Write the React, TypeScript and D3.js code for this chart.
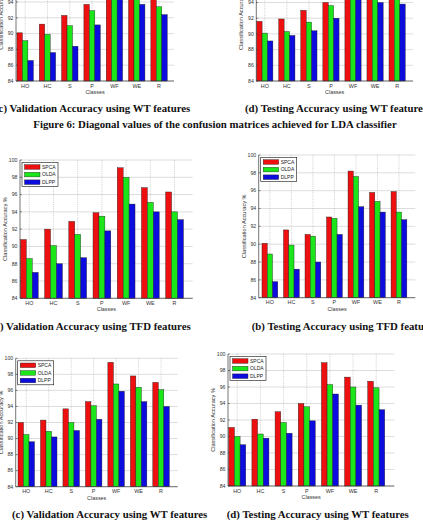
import React from 'react';
import * as d3 from 'd3';

const classes = ['HO', 'HC', 'S', 'P', 'WF', 'WE', 'R'];
const methods = ['SPCA', 'OLDA', 'DLPP'];
const accTicks = [84, 86, 88, 90, 92, 94, 96, 98, 100];

// LDA classifier, WT features
const ldaValSpca = [90.1, 91.2, 92.3, 93.7, 98.4, 96.3, 95.2];
const ldaValOlda = [89.1, 89.9, 91.0, 92.9, 97.2, 95.4, 93.4];
const ldaValDlpp = [86.6, 87.6, 88.4, 91.1, 95.6, 93.7, 92.4];
const ldaTestSpca = [91.6, 91.9, 93.0, 94.0, 98.0, 96.0, 95.5];
const ldaTestOlda = [90.1, 90.3, 91.5, 93.6, 97.0, 95.0, 94.6];
const ldaTestDlpp = [89.1, 89.8, 90.4, 92.0, 95.5, 94.0, 93.8];

// TFD features
const tfdValSpca = [90.8, 92.0, 92.9, 93.9, 99.1, 96.8, 96.3];
const tfdValOlda = [88.6, 90.1, 91.4, 93.5, 98.0, 95.1, 94.0];
const tfdValDlpp = [87.0, 88.0, 88.7, 91.8, 94.9, 94.0, 93.1];
const tfdTestSpca = [90.1, 91.6, 91.1, 93.05, 98.2, 95.8, 95.9];
const tfdTestOlda = [88.9, 89.9, 90.9, 92.9, 97.6, 94.8, 93.6];
const tfdTestDlpp = [85.8, 87.2, 88.0, 91.1, 94.2, 93.6, 92.75];

// WT features
const wtValSpca = [92.0, 92.3, 93.7, 94.6, 99.5, 97.8, 97.0];
const wtValOlda = [90.5, 90.9, 92.0, 94.1, 96.8, 96.4, 96.1];
const wtValDlpp = [89.6, 90.2, 91.0, 92.4, 95.9, 94.6, 94.0];
const wtTestSpca = [91.1, 92.1, 93.0, 94.0, 98.95, 97.2, 96.7];
const wtTestOlda = [90.0, 90.3, 91.7, 93.6, 96.3, 96.0, 95.9];
const wtTestDlpp = [89.0, 89.8, 90.4, 91.9, 95.15, 93.8, 93.25];

const colors = ['#ee1010', '#1ae61a', '#0c0cde'];
const BAR_W = 0.245;
const SANS = "'Liberation Sans', Arial, sans-serif";
const SERIF = "'Liberation Serif', 'Times New Roman', serif";

type Panel = {
  left: number;
  right: number;
  top: number;
  bottom: number;
  xMin: number;
  xMax: number;
  series: number[][];
};

const panels: Panel[] = [
  { left: 16, right: 174, top: -45.4, bottom: 81, xMin: 0.59, xMax: 7.67, series: [ldaValSpca, ldaValOlda, ldaValDlpp] },
  { left: 256.3, right: 413, top: -44.6, bottom: 81, xMin: 0.615, xMax: 7.72, series: [ldaTestSpca, ldaTestOlda, ldaTestDlpp] },
  { left: 20, right: 192.7, top: 160, bottom: 298.3, xMin: 0.616, xMax: 7.75, series: [tfdValSpca, tfdValOlda, tfdValDlpp] },
  { left: 258.7, right: 415.3, top: 155, bottom: 297.7, xMin: 0.48, xMax: 7.76, series: [tfdTestSpca, tfdTestOlda, tfdTestDlpp] },
  { left: 15.7, right: 177.7, top: 358.3, bottom: 486.7, xMin: 0.53, xMax: 7.74, series: [wtValSpca, wtValOlda, wtValDlpp] },
  { left: 228, right: 394.3, top: 354, bottom: 486, xMin: 0.6, xMax: 7.78, series: [wtTestSpca, wtTestOlda, wtTestDlpp] },
];

function BarPanel({ p }: { p: Panel }) {
  const x = d3.scaleLinear().domain([p.xMin, p.xMax]).range([p.left, p.right]);
  const y = d3.scaleLinear().domain([84, 100]).range([p.bottom, p.top]);
  const bw = x(1 + BAR_W) - x(1);
  const lx = p.left + 2;
  const ly = p.top + 2.5;

  return (
    <g style={{ fontFamily: SANS }}>
      {accTicks.map((t) => (
        <line key={'h' + t} x1={p.left} x2={p.right} y1={y(t)} y2={y(t)} stroke="#c6c6c6" strokeWidth={0.6} />
      ))}
      {classes.map((c, i) => (
        <line key={'v' + c} x1={x(i + 1)} x2={x(i + 1)} y1={p.top} y2={p.bottom}
          stroke="#9c9c9c" strokeWidth={0.5} strokeDasharray="1,1.2" />
      ))}
      {p.series.map((vals, j) =>
        vals.map((v, i) => (
          <rect key={methods[j] + i}
            x={x(i + 1 + (j - 1) * BAR_W) - bw / 2}
            y={y(v)}
            width={bw}
            height={y(84) - y(v)}
            fill={colors[j]}
            stroke="#1e1e1e"
            strokeWidth={0.4} />
        ))
      )}
      <line x1={p.left} x2={p.left} y1={p.top} y2={p.bottom} stroke="#3a3a3a" strokeWidth={0.7} />
      <line x1={p.left} x2={p.right} y1={p.bottom} y2={p.bottom} stroke="#3a3a3a" strokeWidth={0.7} />
      {accTicks.map((t) => (
        <g key={'t' + t}>
          <line x1={p.left} x2={p.left + 1.8} y1={y(t)} y2={y(t)} stroke="#3a3a3a" strokeWidth={0.6} />
          <text x={p.left - 2.5} y={y(t) + 1.8} fontSize={5.2} textAnchor="end" fill="#333">{t}</text>
        </g>
      ))}
      {classes.map((c, i) => (
        <text key={'c' + c} x={x(i + 1)} y={p.bottom + 6.6} fontSize={5.4} textAnchor="middle" fill="#333">{c}</text>
      ))}
      <text x={(p.left + p.right) / 2} y={p.bottom + 12.8} fontSize={5.4} textAnchor="middle" fill="#333">Classes</text>
      <text transform={`translate(${p.left - 13},${(p.top + p.bottom) / 2}) rotate(-90)`}
        fontSize={5.6} textAnchor="middle" fill="#333">Classification Accuracy %</text>
      <g>
        <rect x={lx} y={ly} width={36} height={24} fill="#fff" stroke="#111" strokeWidth={0.6} />
        {methods.map((m, j) => (
          <g key={'l' + m}>
            <rect x={lx + 2.5} y={ly + 2.2 + j * 7.6} width={15.5} height={4.6} fill={colors[j]} stroke="#1e1e1e" strokeWidth={0.4} />
            <text x={lx + 20} y={ly + 6.3 + j * 7.6} fontSize={5} fill="#222">{m}</text>
          </g>
        ))}
      </g>
    </g>
  );
}

export default function App() {
  const cap = { fontFamily: SERIF, fontWeight: 700, fontSize: 10.8, fill: '#111' };
  return (
    <svg width={423} height={529} style={{ position: 'absolute', left: 0, top: 0, background: '#fff' }}>
      <rect width={423} height={529} fill="#fff" />
      {panels.map((p, i) => (
        <BarPanel key={i} p={p} />
      ))}
      <g style={cap}>
        <text x={-5} y={112}>(c) Validation Accuracy using WT features</text>
        <text x={245} y={112}>(d) Testing Accuracy using WT features</text>
        <text x={215} y={128} textAnchor="middle">
          Figure 6: Diagonal values of the confusion matrices achieved for LDA classifier
        </text>
        <text x={-9} y={330}>(a) Validation Accuracy using TFD features</text>
        <text x={251.7} y={330}>(b) Testing Accuracy using TFD features</text>
        <text x={12} y={518}>(c) Validation Accuracy using WT features</text>
        <text x={226.7} y={518}>(d) Testing Accuracy using WT features</text>
      </g>
    </svg>
  );
}
